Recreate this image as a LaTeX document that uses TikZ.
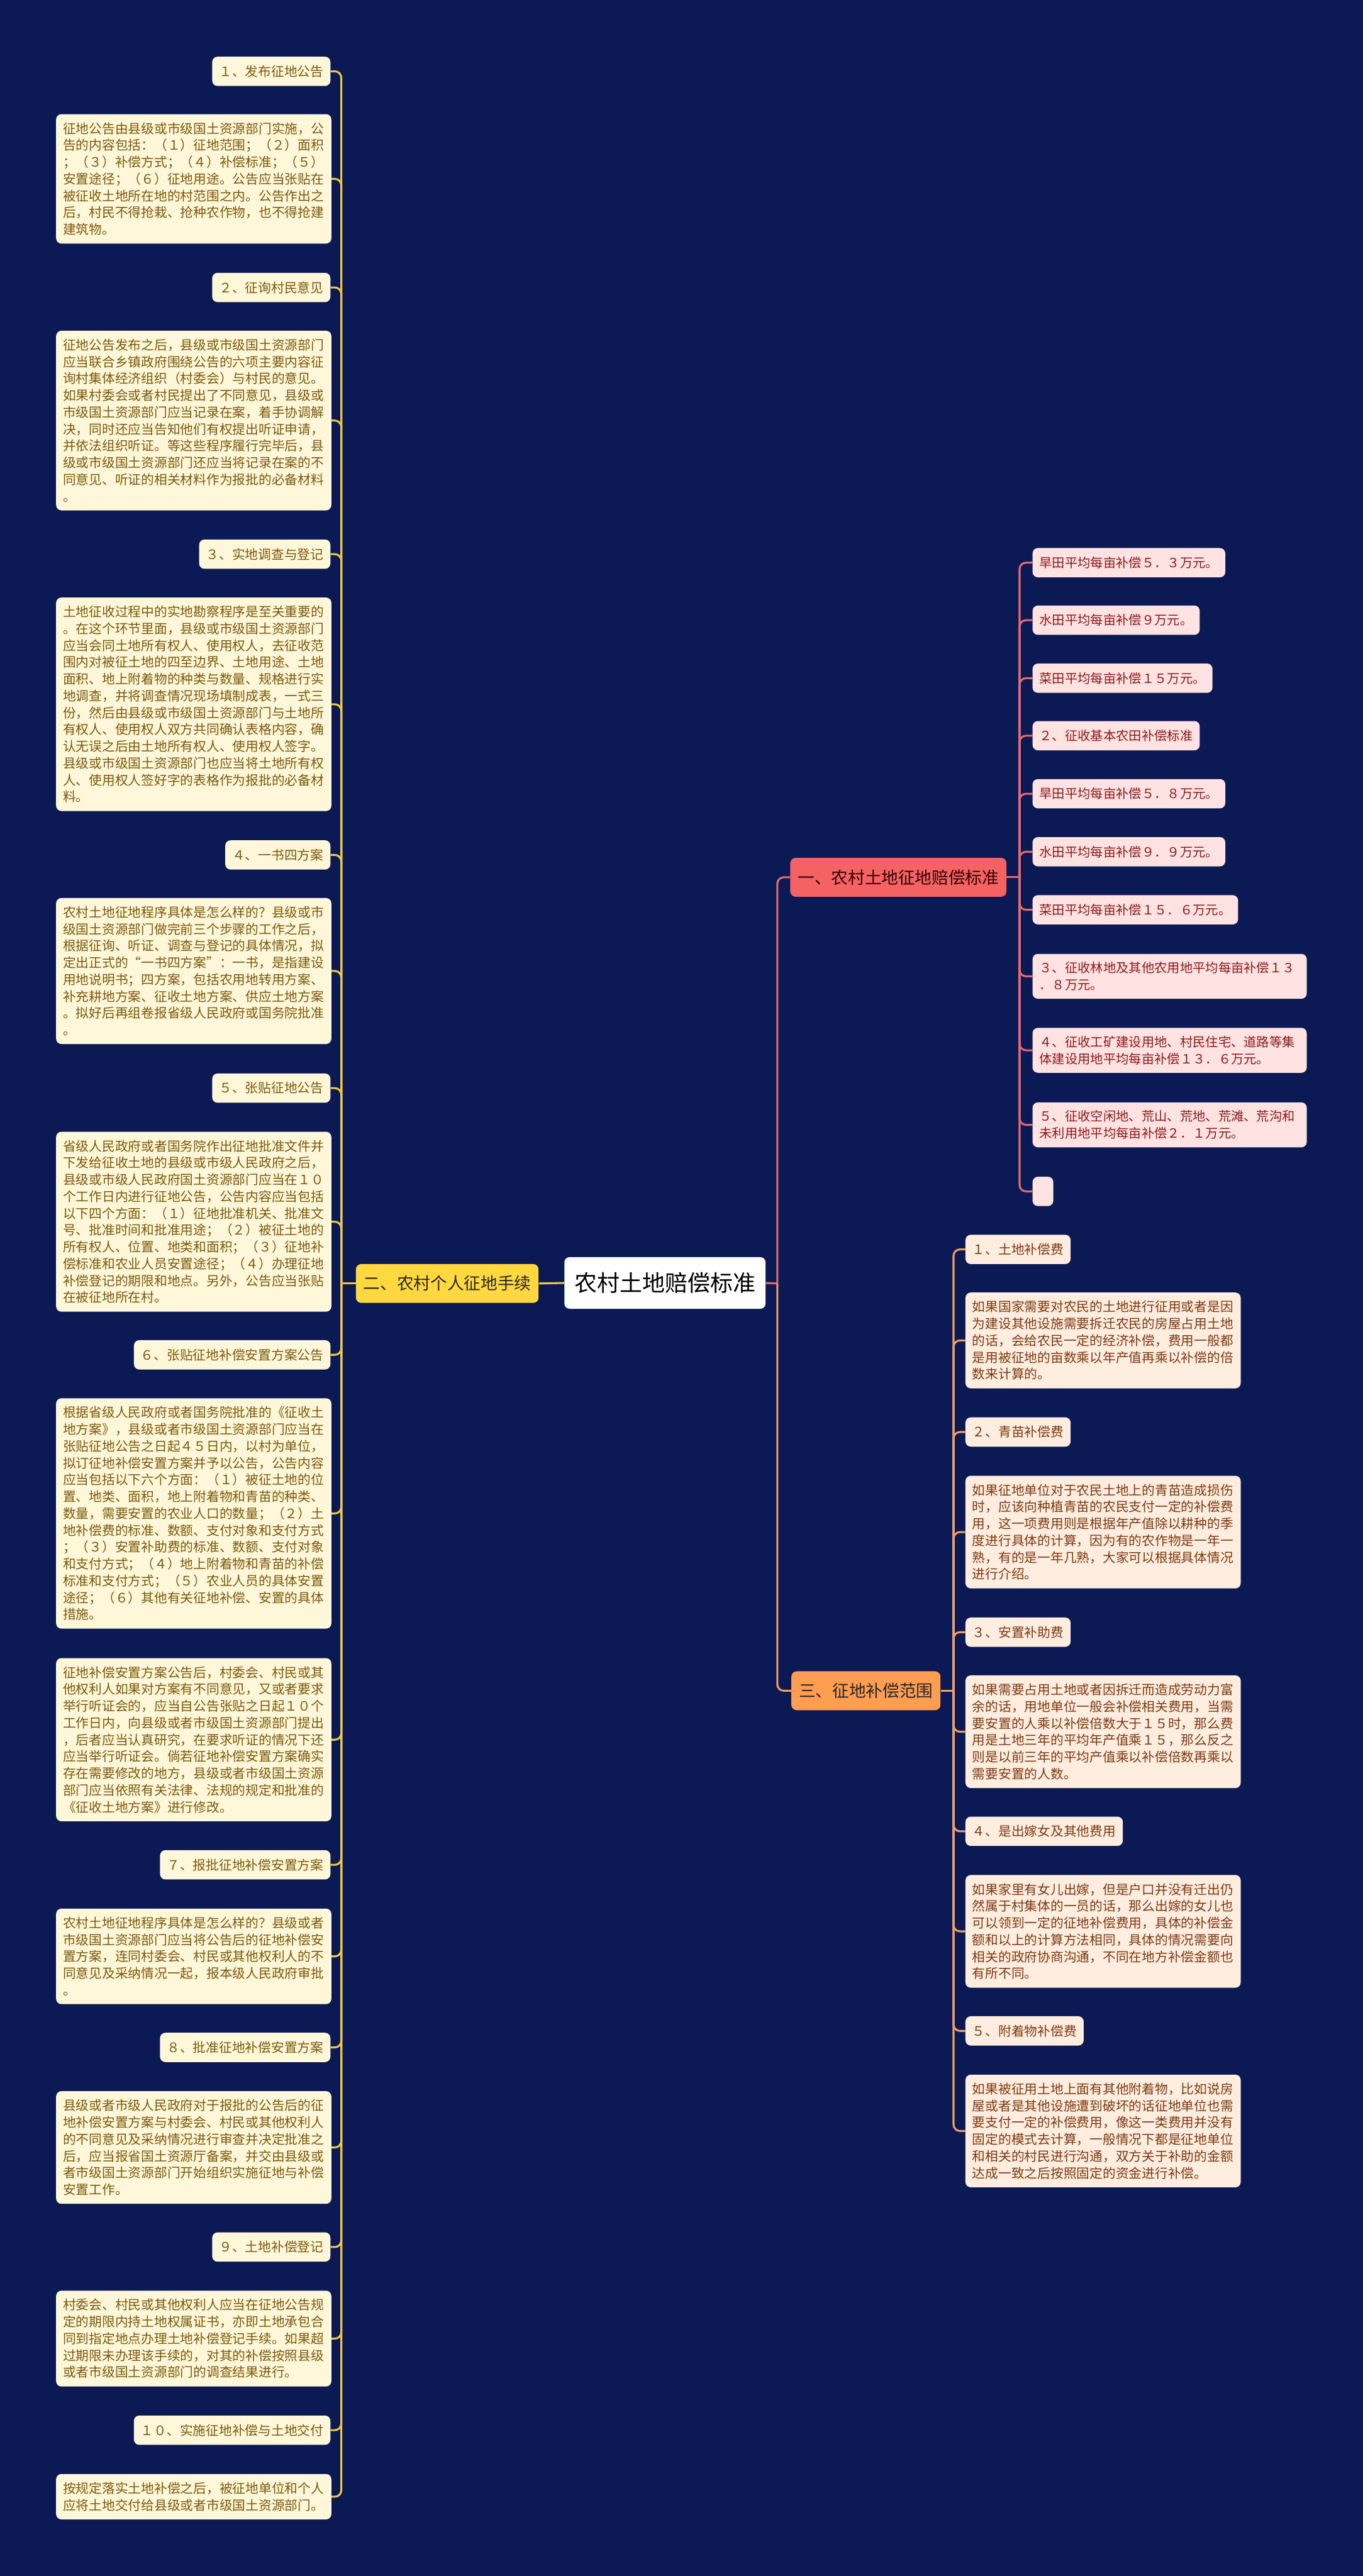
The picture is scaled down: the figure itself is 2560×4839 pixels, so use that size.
\documentclass[tikz,border=0pt]{standalone}
\usepackage{fontspec}
\setmainfont{Noto Sans CJK SC}
\usetikzlibrary{backgrounds}
\definecolor{bgc}{HTML}{0B1A55}
\definecolor{ylfill}{HTML}{FFD840}
\definecolor{lbox}{HTML}{FFF7D9}
\definecolor{ltxt}{HTML}{7A5A0C}
\definecolor{redfill}{HTML}{F46264}
\definecolor{pbox}{HTML}{FFE2E2}
\definecolor{ptxt}{HTML}{8B1A1A}
\definecolor{orfill}{HTML}{FF9D52}
\definecolor{obox}{HTML}{FFEDE0}
\definecolor{otxt}{HTML}{7B3A10}
\definecolor{yline}{HTML}{F0C844}
\definecolor{rline}{HTML}{E96A6E}
\definecolor{oline}{HTML}{F2A064}
\tikzset{
  lbl/.style={fill=lbox, text=ltxt, rounded corners=5pt, inner xsep=6.5pt, inner ysep=0pt,
    minimum height=27.5pt, font=\fontsize{12.25pt}{15.8pt}\selectfont, anchor=east},
  ltx/.style={fill=lbox, text=ltxt, rounded corners=5pt, inner xsep=6.5pt, inner ysep=7.7pt,
    text width=245.5pt, align=left, font=\fontsize{12.25pt}{15.8pt}\selectfont, anchor=west},
  plbl/.style={fill=pbox, text=ptxt, rounded corners=5pt, inner xsep=6.5pt, inner ysep=0pt,
    minimum height=27.5pt, font=\fontsize{12pt}{16pt}\selectfont, anchor=west},
  ptx/.style={fill=pbox, text=ptxt, rounded corners=5pt, inner xsep=6.5pt, inner ysep=7.5pt,
    text width=244.5pt, align=left, font=\fontsize{12pt}{16pt}\selectfont, anchor=west},
  olbl/.style={fill=obox, text=otxt, rounded corners=5pt, inner xsep=6.5pt, inner ysep=0pt,
    minimum height=27.5pt, font=\fontsize{12.25pt}{15.8pt}\selectfont, anchor=west},
  otx/.style={fill=obox, text=otxt, rounded corners=5pt, inner xsep=6.5pt, inner ysep=7.7pt,
    text width=245.5pt, align=left, font=\fontsize{12.25pt}{15.8pt}\selectfont, anchor=west},
  branch/.style={rounded corners=5pt, inner xsep=7pt, inner ysep=0pt, minimum height=36.5pt,
    font=\fontsize{15.75pt}{18pt}\selectfont},
  yconn/.style={draw=yline, line width=1.8pt, rounded corners=6pt},
  rconn/.style={draw=rline, line width=1.8pt, rounded corners=6pt},
  oconn/.style={draw=oline, line width=1.8pt, rounded corners=6pt},
}
\begin{document}
\begin{tikzpicture}[x=0.5pt,y=-0.5pt]
\begin{pgfonlayer}{background}
\fill[bgc] (0,0) rectangle (2560,4839);
\end{pgfonlayer}
\useasboundingbox (0,0) rectangle (2560,4839);

% ---------- junction coordinates ----------
\coordinate (jL) at (641,2411);
\coordinate (jC) at (1460,2411);
\coordinate (jR1) at (1915,1648);
\coordinate (jR3) at (1791,3176);

% ---------- centre and branches ----------
\node[fill=white, text=black, rounded corners=5pt, inner xsep=9.5pt, inner ysep=0pt,
  minimum height=48.5pt, font=\fontsize{21.25pt}{24pt}\selectfont] (C) at (1249,2410) {农村土地赔偿标准};
\node[branch, fill=ylfill, text=black!85] (B2) at (840,2411) {二、农村个人征地手续};
\node[branch, fill=redfill, text=black!80!red, anchor=west] (B1) at (1484,1648) {一、农村土地征地赔偿标准};
\node[branch, fill=orfill, text=black!85, anchor=west] (B3) at (1486,3176) {三、征地补偿范围};

% ---------- left column ----------
\node[lbl] (N1) at (621,134) {１、发布征地公告};
\node[ltx] (T1) at (105,336) {征地公告由县级或市级国土资源部门实施，公\\
告的内容包括：（１）征地范围；（２）面积\\
；（３）补偿方式；（４）补偿标准；（５）\\
安置途径；（６）征地用途。公告应当张贴在\\
被征收土地所在地的村范围之内。公告作出之\\
后，村民不得抢栽、抢种农作物，也不得抢建\\
建筑物。};
\node[lbl] (N2) at (621,540) {２、征询村民意见};
\node[ltx] (T2) at (105,790) {征地公告发布之后，县级或市级国土资源部门\\
应当联合乡镇政府围绕公告的六项主要内容征\\
询村集体经济组织（村委会）与村民的意见。\\
如果村委会或者村民提出了不同意见，县级或\\
市级国土资源部门应当记录在案，着手协调解\\
决，同时还应当告知他们有权提出听证申请，\\
并依法组织听证。等这些程序履行完毕后，县\\
级或市级国土资源部门还应当将记录在案的不\\
同意见、听证的相关材料作为报批的必备材料\\
。};
\node[lbl] (N3) at (621,1041) {３、实地调查与登记};
\node[ltx] (T3) at (105,1323) {土地征收过程中的实地勘察程序是至关重要的\\
。在这个环节里面，县级或市级国土资源部门\\
应当会同土地所有权人、使用权人，去征收范\\
围内对被征土地的四至边界、土地用途、土地\\
面积、地上附着物的种类与数量、规格进行实\\
地调查，并将调查情况现场填制成表，一式三\\
份，然后由县级或市级国土资源部门与土地所\\
有权人、使用权人双方共同确认表格内容，确\\
认无误之后由土地所有权人、使用权人签字。\\
县级或市级国土资源部门也应当将土地所有权\\
人、使用权人签好字的表格作为报批的必备材\\
料。};
\node[lbl] (N4) at (621,1606) {４、一书四方案};
\node[ltx] (T4) at (105,1824) {农村土地征地程序具体是怎么样的？县级或市\\
级国土资源部门做完前三个步骤的工作之后，\\
根据征询、听证、调查与登记的具体情况，拟\\
定出正式的“一书四方案”：一书，是指建设\\
用地说明书；四方案，包括农用地转用方案、\\
补充耕地方案、征收土地方案、供应土地方案\\
。拟好后再组卷报省级人民政府或国务院批准\\
。};
\node[lbl] (N5) at (621,2044) {５、张贴征地公告};
\node[ltx] (T5) at (105,2295) {省级人民政府或者国务院作出征地批准文件并\\
下发给征收土地的县级或市级人民政府之后，\\
县级或市级人民政府国土资源部门应当在１０\\
个工作日内进行征地公告，公告内容应当包括\\
以下四个方面：（１）征地批准机关、批准文\\
号、批准时间和批准用途；（２）被征土地的\\
所有权人、位置、地类和面积；（３）征地补\\
偿标准和农业人员安置途径；（４）办理征地\\
补偿登记的期限和地点。另外，公告应当张贴\\
在被征地所在村。};
\node[lbl] (N6) at (621,2545) {６、张贴征地补偿安置方案公告};
\node[ltx] (T6) at (105,2843) {根据省级人民政府或者国务院批准的《征收土\\
地方案》，县级或者市级国土资源部门应当在\\
张贴征地公告之日起４５日内，以村为单位，\\
拟订征地补偿安置方案并予以公告，公告内容\\
应当包括以下六个方面：（１）被征土地的位\\
置、地类、面积，地上附着物和青苗的种类、\\
数量，需要安置的农业人口的数量；（２）土\\
地补偿费的标准、数额、支付对象和支付方式\\
；（３）安置补助费的标准、数额、支付对象\\
和支付方式；（４）地上附着物和青苗的补偿\\
标准和支付方式；（５）农业人员的具体安置\\
途径；（６）其他有关征地补偿、安置的具体\\
措施。};
\node[ltx] (T7) at (105,3268) {征地补偿安置方案公告后，村委会、村民或其\\
他权利人如果对方案有不同意见，又或者要求\\
举行听证会的，应当自公告张贴之日起１０个\\
工作日内，向县级或者市级国土资源部门提出\\
，后者应当认真研究，在要求听证的情况下还\\
应当举行听证会。倘若征地补偿安置方案确实\\
存在需要修改的地方，县级或者市级国土资源\\
部门应当依照有关法律、法规的规定和批准的\\
《征收土地方案》进行修改。};
\node[lbl] (N7) at (621,3503) {７、报批征地补偿安置方案};
\node[ltx] (T8) at (105,3675) {农村土地征地程序具体是怎么样的？县级或者\\
市级国土资源部门应当将公告后的征地补偿安\\
置方案，连同村委会、村民或其他权利人的不\\
同意见及采纳情况一起，报本级人民政府审批\\
。};
\node[lbl] (N8) at (621,3846) {８、批准征地补偿安置方案};
\node[ltx] (T9) at (105,4034) {县级或者市级人民政府对于报批的公告后的征\\
地补偿安置方案与村委会、村民或其他权利人\\
的不同意见及采纳情况进行审查并决定批准之\\
后，应当报省国土资源厅备案，并交由县级或\\
者市级国土资源部门开始组织实施征地与补偿\\
安置工作。};
\node[lbl] (N9) at (621,4221) {９、土地补偿登记};
\node[ltx] (T10) at (105,4393) {村委会、村民或其他权利人应当在征地公告规\\
定的期限内持土地权属证书，亦即土地承包合\\
同到指定地点办理土地补偿登记手续。如果超\\
过期限未办理该手续的，对其的补偿按照县级\\
或者市级国土资源部门的调查结果进行。};
\node[lbl] (N10) at (621,4565) {１０、实施征地补偿与土地交付};
\node[ltx] (T11) at (105,4690) {按规定落实土地补偿之后，被征地单位和个人\\
应将土地交付给县级或者市级国土资源部门。};

% ---------- right: red branch ----------
\node[plbl] (R1) at (1939,1057) {旱田平均每亩补偿５．３万元。};
\node[plbl] (R2) at (1939,1165) {水田平均每亩补偿９万元。};
\node[plbl] (R3) at (1939,1274) {菜田平均每亩补偿１５万元。};
\node[plbl] (R4) at (1939,1382) {２、征收基本农田补偿标准};
\node[plbl] (R5) at (1939,1491) {旱田平均每亩补偿５．８万元。};
\node[plbl] (R6) at (1939,1600) {水田平均每亩补偿９．９万元。};
\node[plbl] (R7) at (1939,1709) {菜田平均每亩补偿１５．６万元。};
\node[ptx] (R8) at (1939,1834) {３、征收林地及其他农用地平均每亩补偿１３\\
．８万元。};
\node[ptx] (R9) at (1939,1973) {４、征收工矿建设用地、村民住宅、道路等集\\
体建设用地平均每亩补偿１３．６万元。};
\node[ptx] (R10) at (1939,2113) {５、征收空闲地、荒山、荒地、荒滩、荒沟和\\
未利用地平均每亩补偿２．１万元。};
\node[plbl, minimum width=19.5pt, inner xsep=0pt] (R11) at (1939,2238) {};

% ---------- right: orange branch ----------
\node[olbl] (O1) at (1813,2347) {１、土地补偿费};
\node[otx] (OT1) at (1813,2518) {如果国家需要对农民的土地进行征用或者是因\\
为建设其他设施需要拆迁农民的房屋占用土地\\
的话，会给农民一定的经济补偿，费用一般都\\
是用被征地的亩数乘以年产值再乘以补偿的倍\\
数来计算的。};
\node[olbl] (O2) at (1813,2690) {２、青苗补偿费};
\node[otx] (OT2) at (1813,2878) {如果征地单位对于农民土地上的青苗造成损伤\\
时，应该向种植青苗的农民支付一定的补偿费\\
用，这一项费用则是根据年产值除以耕种的季\\
度进行具体的计算，因为有的农作物是一年一\\
熟，有的是一年几熟，大家可以根据具体情况\\
进行介绍。};
\node[olbl] (O3) at (1813,3066) {３、安置补助费};
\node[otx] (OT3) at (1813,3253) {如果需要占用土地或者因拆迁而造成劳动力富\\
余的话，用地单位一般会补偿相关费用，当需\\
要安置的人乘以补偿倍数大于１５时，那么费\\
用是土地三年的平均年产值乘１５，那么反之\\
则是以前三年的平均产值乘以补偿倍数再乘以\\
需要安置的人数。};
\node[olbl] (O4) at (1813,3440) {４、是出嫁女及其他费用};
\node[otx] (OT4) at (1813,3628) {如果家里有女儿出嫁，但是户口并没有迁出仍\\
然属于村集体的一员的话，那么出嫁的女儿也\\
可以领到一定的征地补偿费用，具体的补偿金\\
额和以上的计算方法相同，具体的情况需要向\\
相关的政府协商沟通，不同在地方补偿金额也\\
有所不同。};
\node[olbl] (O5) at (1813,3815) {５、附着物补偿费};
\node[otx] (OT5) at (1813,4003) {如果被征用土地上面有其他附着物，比如说房\\
屋或者是其他设施遭到破坏的话征地单位也需\\
要支付一定的补偿费用，像这一类费用并没有\\
固定的模式去计算，一般情况下都是征地单位\\
和相关的村民进行沟通，双方关于补助的金额\\
达成一致之后按照固定的资金进行补偿。};

% ---------- connectors (behind nodes) ----------
\begin{pgfonlayer}{background}
\draw[yconn] (C.west) -- (B2.east);
\draw[yconn] (B2.west) -- (jL);
\foreach \n in {N1,T1,N2,T2,N3,T3,N4,T4,N5,T5,N6,T6,T7,N7,T8,N8,T9,N9,T10,N10,T11}
  \draw[yconn] (jL) |- (\n.east);
\draw[rconn] (C.east) -- (jC);
\draw[rconn] (jC) |- (B1.west);
\draw[oconn] (jC) |- (B3.west);
\draw[rconn] (B1.east) -- (jR1);
\foreach \n in {R1,R2,R3,R4,R5,R6,R7,R8,R9,R10,R11}
  \draw[rconn] (jR1) |- (\n.west);
\draw[oconn] (B3.east) -- (jR3);
\foreach \n in {O1,OT1,O2,OT2,O3,OT3,O4,OT4,O5,OT5}
  \draw[oconn] (jR3) |- (\n.west);
\end{pgfonlayer}
\end{tikzpicture}
\end{document}
